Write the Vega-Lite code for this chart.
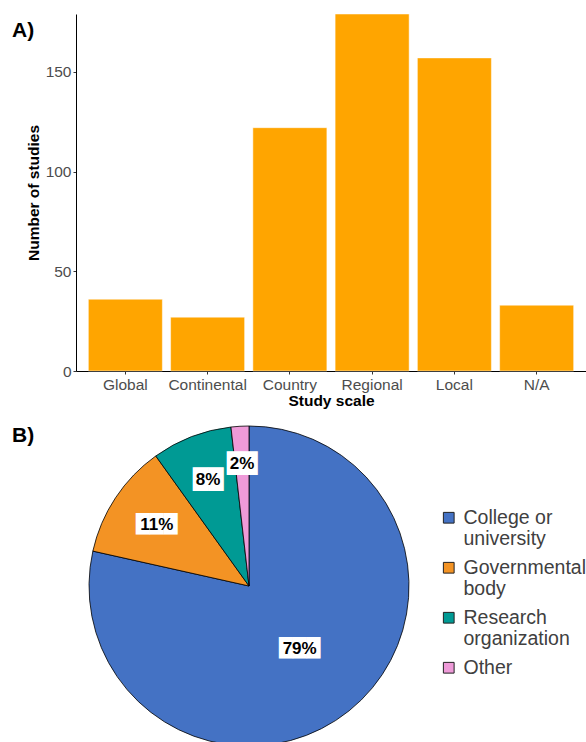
{
  "$schema": "https://vega.github.io/schema/vega-lite/v6.json",
  "padding": {"left": 12, "top": 13, "right": 0, "bottom": 0},
  "spacing": 15,
  "config": {"view": {"stroke": null}, "font": "Liberation Sans"},
  "vconcat": [
    {
      "width": 510,
      "height": 357,
      "title": {"text": "A)", "anchor": "start", "frame": "group", "orient": "top", "offset": 0, "dx": -64, "dy": 27, "fontSize": 21, "fontWeight": "bold", "font": "Liberation Sans", "color": "#000000"},
      "data": {"values": [
        {"scale": "Global", "studies": 36},
        {"scale": "Continental", "studies": 27},
        {"scale": "Country", "studies": 122},
        {"scale": "Regional", "studies": 179},
        {"scale": "Local", "studies": 157},
        {"scale": "N/A", "studies": 33}
      ]},
      "mark": {"type": "bar", "color": "#FFA500", "stroke": "#FFFFFF", "strokeWidth": 0.5},
      "encoding": {
        "x": {"field": "scale", "type": "nominal", "sort": null,
          "scale": {"paddingInner": 0.1, "paddingOuter": 0.15},
          "axis": {"title": "Study scale", "labelAngle": 0, "labelFontSize": 15.5, "labelColor": "#4D4D4D", "labelPadding": 3, "tickSize": 3, "tickColor": "#333333", "domainColor": "#000000", "titleFontSize": 15.5, "titleFontWeight": "bold", "titleColor": "#000000", "titlePadding": 1}},
        "y": {"field": "studies", "type": "quantitative",
          "scale": {"domain": [0, 179], "nice": false},
          "axis": {"title": "Number of studies", "values": [0, 50, 100, 150], "grid": false, "labelFontSize": 15.5, "labelColor": "#4D4D4D", "labelPadding": 2, "tickSize": 3, "tickColor": "#333333", "domainColor": "#000000", "titleFontSize": 15.5, "titleFontWeight": "bold", "titleColor": "#000000", "titlePadding": 4}}
      }
    },
    {
      "width": 346,
      "height": 320,
      "title": {"text": "B)", "anchor": "start", "frame": "group", "orient": "top", "offset": 0, "dx": -64, "dy": 22, "fontSize": 21, "fontWeight": "bold", "font": "Liberation Sans", "color": "#000000"},
      "data": {"values": [
        {"org": "College or university", "share": 78.5, "label": "79%", "ord": 1},
        {"org": "Governmental body", "share": 11.6, "label": "11%", "ord": 2},
        {"org": "Research organization", "share": 8.1, "label": "8%", "ord": 3},
        {"org": "Other", "share": 1.8, "label": "2%", "ord": 4}
      ]},
      "encoding": {
        "theta": {"field": "share", "type": "quantitative", "stack": true},
        "order": {"field": "ord", "type": "quantitative"}
      },
      "layer": [
        {
          "mark": {"type": "arc", "outerRadius": 160, "stroke": "#000000", "strokeWidth": 0.8},
          "encoding": {
            "color": {"field": "org", "type": "nominal",
              "scale": {"domain": ["College or university", "Governmental body", "Research organization", "Other"], "range": ["#4472C4", "#F39324", "#009A94", "#EE9AD8"]},
              "legend": {"title": null, "orient": "none", "legendX": 363, "legendY": 494, "symbolType": "square", "symbolSize": 115, "symbolStrokeColor": "#222222", "symbolStrokeWidth": 1, "labelFontSize": 19.5, "labelColor": "#404040", "labelFont": "Liberation Sans", "labelOffset": 5, "rowPadding": 8, "labelLimit": 300,
                "labelExpr": "datum.label == 'College or university' ? ['College or', 'university'] : datum.label == 'Governmental body' ? ['Governmental', 'body'] : datum.label == 'Research organization' ? ['Research', 'organization'] : datum.label"}
            }
          }
        },
        {
          "mark": {"type": "text", "font": "DejaVu Sans", "color": "#FFFFFF"},
          "encoding": {
            "radius": {"field": "share", "type": "quantitative", "scale": {"type": "linear", "domain": [1.8, 8.1, 11.6, 78.5], "range": [122, 114, 110.6, 81], "zero": false}},
            "text": {"condition": {"test": "length(datum.label) > 2", "value": "███"}, "value": "██"},
            "size": {"condition": {"test": "length(datum.label) > 2", "value": 18}, "value": 20}
          }
        },
        {
          "mark": {"type": "text", "font": "Liberation Sans", "fontSize": 17, "fontWeight": "bold", "color": "#000000"},
          "encoding": {
            "radius": {"field": "share", "type": "quantitative"},
            "text": {"field": "label", "type": "nominal"}
          }
        }
      ]
    }
  ]
}
